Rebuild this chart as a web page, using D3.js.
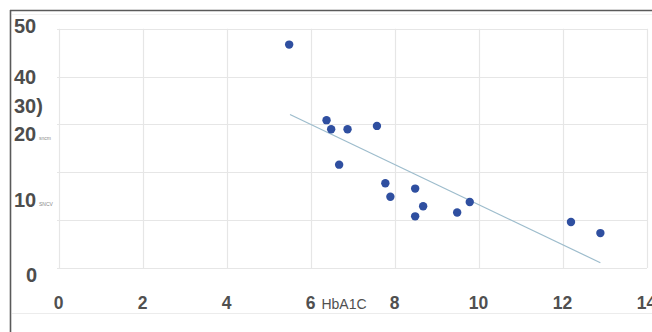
<!DOCTYPE html>
<html><head><meta charset="utf-8">
<script src="https://cdn.jsdelivr.net/npm/d3@7"></script>
<style>html,body{margin:0;padding:0;background:#fff;}svg{display:block;}</style>
</head><body>
<script>
// Data
const hba1c = [5.48, 6.37, 6.48, 6.87, 7.57, 6.67, 7.77, 7.89, 8.48, 8.67, 8.48, 9.48, 9.78, 12.19, 12.89];
const sncv  = [46.7, 30.9, 29.0, 29.0, 29.7, 21.6, 17.7, 14.9, 16.6, 12.9, 10.8, 11.6, 13.8, 9.6, 7.3];
const trendX = [5.50, 12.89];
const trendY = [32.1, 1.1];
const xTicks = [0, 2, 4, 6, 8, 10, 12, 14];
const yGrid = [0, 10, 20, 30, 40, 50];
// y tick labels as they appear (positions in data units)
const yLabelText = ["50", "40", "30)", "20", "10", "0"];
const yLabelPos  = [50.5, 39.9, 33.8, 28.0, 14.2, -1.4];
const ySmallText = ["", "", "", "sncm", "SNCV", ""];

const W = 652, H = 332;
const svg = d3.select("body").append("svg").attr("width", W).attr("height", H);
const x = d3.scaleLinear().domain([0, 14]).range([59, 647]);
const y = d3.scaleLinear().domain([0, 50]).range([268, 28.8]);

// frame
svg.append("line").attr("x1", 10).attr("x2", W).attr("y1", 10.5).attr("y2", 10.5).attr("stroke", "#5a5a5a").attr("stroke-width", 1.6);
svg.append("line").attr("x1", 10.5).attr("x2", 10.5).attr("y1", 10).attr("y2", H).attr("stroke", "#5a5a5a").attr("stroke-width", 1.6);
svg.append("line").attr("x1", 12).attr("x2", W).attr("y1", 14.5).attr("y2", 14.5).attr("stroke", "#f2f2f2");
svg.append("line").attr("x1", 12).attr("x2", W).attr("y1", 313.5).attr("y2", 313.5).attr("stroke", "#ececec");

// grid
const g = svg.append("g");
g.selectAll(".hg").data(yGrid).join("line")
  .attr("x1", 57).attr("x2", 647).attr("y1", d => Math.round(y(d)) + 0.5).attr("y2", d => Math.round(y(d)) + 0.5)
  .attr("stroke", "#e6e6e6").attr("stroke-width", 1.2);
g.selectAll(".vg").data(xTicks).join("line")
  .attr("x1", d => Math.round(x(d)) + 0.5).attr("x2", d => Math.round(x(d)) + 0.5)
  .attr("y1", y(50)).attr("y2", y(0))
  .attr("stroke", "#e6e6e6").attr("stroke-width", 1.2);

// x axis labels
const xa = d3.axisBottom(x).tickValues(xTicks).tickSize(0).tickPadding(0).tickFormat(d3.format("d"));
const xg = svg.append("g").attr("transform", "translate(-1,302.5)").call(xa);
xg.select(".domain").remove();
xg.selectAll("text").attr("font-family", "Liberation Sans Narrow, Liberation Sans, sans-serif").attr("font-size", 17.5)
  .attr("font-weight", "bold").attr("fill", "#505050").attr("y", 0).attr("dy", "0.35em");
svg.append("text").attr("x", 344).attr("y", 308.5).attr("text-anchor", "middle")
  .attr("font-family", "Liberation Sans, Arial, sans-serif").attr("font-size", 14)
  .attr("fill", "#505050").text("HbA1C");

// y labels
const yl = svg.append("g");
yLabelText.forEach((t, i) => {
  yl.append("text").attr("x", t === "0" ? 26 : 14).attr("y", y(yLabelPos[i]))
    .attr("dy", "0.35em").attr("font-family", "Liberation Sans, Arial, sans-serif")
    .attr("font-size", 20).attr("font-weight", "bold").attr("fill", "#4d4d4d").text(t);
  if (ySmallText[i]) {
    yl.append("text").attr("x", 39).attr("y", y(yLabelPos[i]) + 6)
      .attr("font-family", "Liberation Sans, Arial, sans-serif").attr("font-size", 5)
      .attr("fill", "#888").text(ySmallText[i]);
  }
});

// trend line
svg.append("line").attr("x1", x(trendX[0])).attr("y1", y(trendY[0]))
  .attr("x2", x(trendX[1])).attr("y2", y(trendY[1]))
  .attr("stroke", "#9dbccc").attr("stroke-width", 1.2);

// points
svg.append("g").selectAll("circle").data(hba1c.map((v, i) => [v, sncv[i]])).join("circle")
  .attr("cx", d => x(d[0])).attr("cy", d => y(d[1])).attr("r", 4.2)
  .attr("fill", "#2f4fa0");
</script>
</body></html>
